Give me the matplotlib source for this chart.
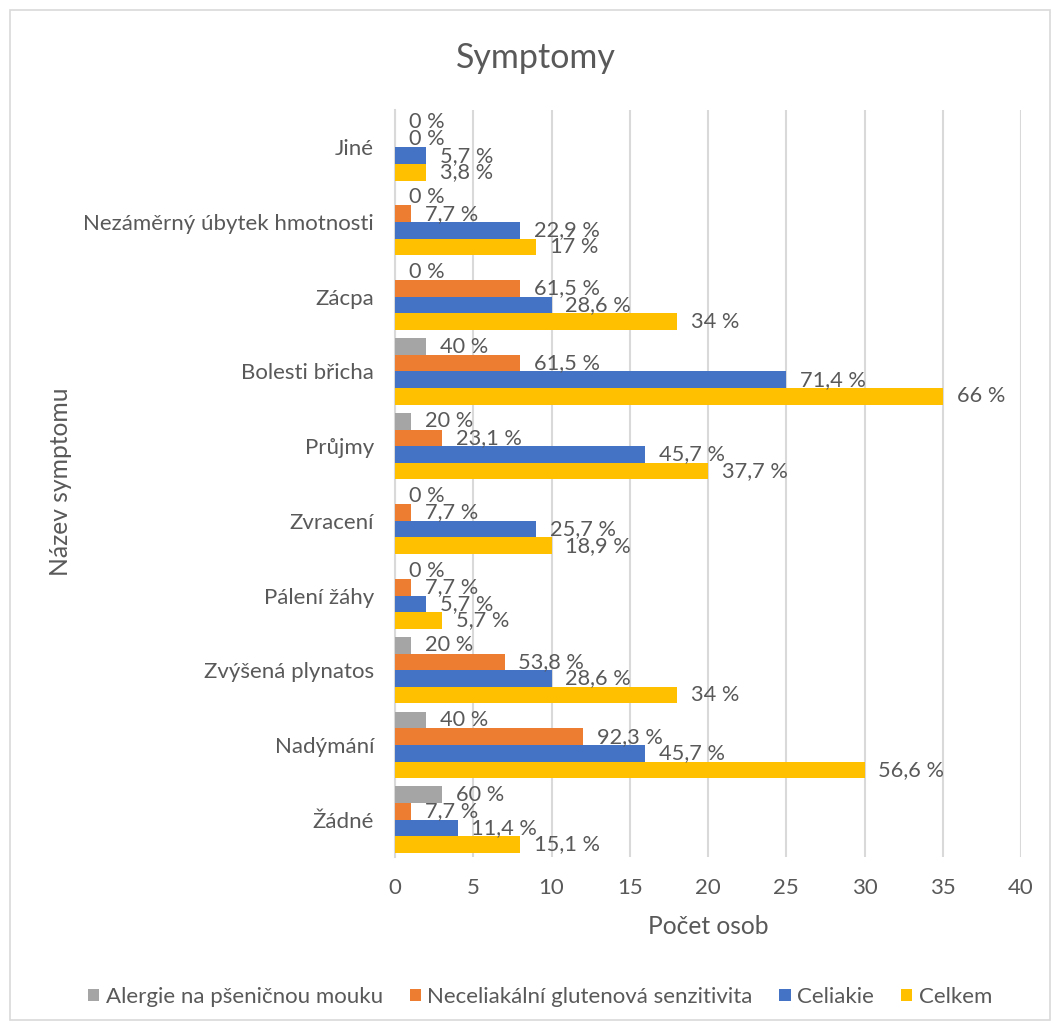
import matplotlib
matplotlib.use("Agg")
import matplotlib.pyplot as plt
from matplotlib.patches import Rectangle
import numpy as np

plt.rcParams['font.family'] = ['Lato', 'DejaVu Sans']

categories = ["Žádné", "Nadýmání", "Zvýšená plynatos", "Pálení žáhy", "Zvracení",
              "Průjmy", "Bolesti břicha", "Zácpa", "Nezáměrný úbytek hmotnosti", "Jiné"]
series_names = ["Alergie na pšeničnou mouku", "Neceliakální glutenová senzitivita", "Celiakie", "Celkem"]
alergie = [3, 2, 1, 0, 0, 1, 2, 0, 0, 0]
ncgs = [1, 12, 7, 1, 1, 3, 8, 8, 1, 0]
celiakie = [4, 16, 10, 2, 9, 16, 25, 10, 8, 2]
celkem = [8, 30, 18, 3, 10, 20, 35, 18, 9, 2]
alergie_lbl = ["60 %", "40 %", "20 %", "0 %", "0 %", "20 %", "40 %", "0 %", "0 %", "0 %"]
ncgs_lbl = ["7,7 %", "92,3 %", "53,8 %", "7,7 %", "7,7 %", "23,1 %", "61,5 %", "61,5 %", "7,7 %", "0 %"]
celiakie_lbl = ["11,4 %", "45,7 %", "28,6 %", "5,7 %", "25,7 %", "45,7 %", "71,4 %", "28,6 %", "22,9 %", "5,7 %"]
celkem_lbl = ["15,1 %", "56,6 %", "34 %", "5,7 %", "18,9 %", "37,7 %", "66 %", "34 %", "17 %", "3,8 %"]
x_ticks = [0, 5, 10, 15, 20, 25, 30, 35, 40]

colors = ["#A5A5A5", "#ED7D31", "#4472C4", "#FFC000"]
txt = "#595959"

fig = plt.figure(figsize=(10.56, 10.29), dpi=100)
fig.patches.append(Rectangle((10/1056, 1 - 1020/1029), 1040/1056, 1010/1029,
                             transform=fig.transFigure, fill=False,
                             edgecolor="#D9D9D9", linewidth=1.2))
ax = fig.add_axes([395/1056, 1 - 857/1029, 626/1056, 747/1029])

h = 0.222
y = np.arange(len(categories))
offsets = [1.5 * h, 0.5 * h, -0.5 * h, -1.5 * h]
data = [alergie, ncgs, celiakie, celkem]
labels = [alergie_lbl, ncgs_lbl, celiakie_lbl, celkem_lbl]
for vals, lbls, off, c, name in zip(data, labels, offsets, colors, series_names):
    ax.barh(y + off, vals, height=h, color=c, label=name, zorder=3)
    for yi, v, l in zip(y, vals, lbls):
        ax.annotate(l, xy=(v, yi + off), xytext=(10, 0), textcoords="offset points",
                    ha="left", va="center", fontsize=15.7, color=txt, zorder=4)

ax.set_xlim(0, 40)
ax.set_ylim(-0.5, len(categories) - 0.5)
ax.set_xticks(x_ticks)
ax.set_xticklabels([str(t) for t in x_ticks])
ax.set_yticks(y)
ax.set_yticklabels(categories)
ax.tick_params(axis="both", length=0, labelsize=16, colors=txt)
ax.tick_params(axis="x", pad=15)
ax.tick_params(axis="y", pad=15)
ax.grid(axis="x", color="#D9D9D9", linewidth=1.5, zorder=0)
for s in ["top", "right", "bottom"]:
    ax.spines[s].set_visible(False)
ax.spines["left"].set_color("#D9D9D9")
ax.spines["left"].set_linewidth(1.5)

fig.text(536/1056, 1 - 58/1029, "Symptomy", ha="center", va="center", fontsize=24.5, color=txt)
fig.text(708/1056, 1 - 926/1029, "Počet osob", ha="center", va="center", fontsize=17.7, color=txt)
fig.text(60/1056, 1 - 482/1029, "Název symptomu", ha="center", va="center", rotation=90,
         fontsize=17.7, color=txt)

leg = fig.legend(loc="center", bbox_to_anchor=(540/1056, 1 - 997/1029), ncol=4, frameon=False,
                 fontsize=16, handlelength=0.5, handleheight=0.5, handletextpad=0.3,
                 columnspacing=1.2, labelcolor=txt)

fig.savefig("out.png", dpi=100)
